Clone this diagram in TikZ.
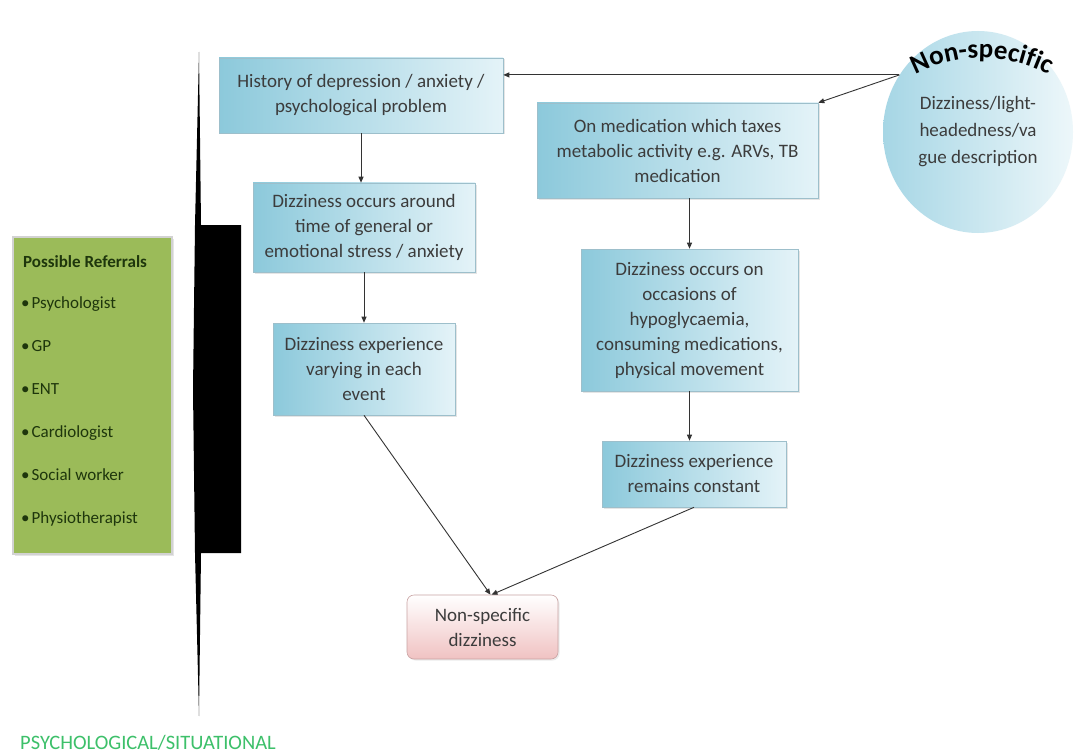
\documentclass[tikz,border=0pt]{standalone}
\usepackage{fontspec}
\setmainfont{Carlito}
\usetikzlibrary{arrows.meta,decorations.text,shapes.geometric,shadows}
\definecolor{boxdark}{HTML}{8CC9DB}
\definecolor{boxlight}{HTML}{E4F3F8}
\definecolor{boxedge}{HTML}{9DBFCB}
\definecolor{txtcol}{HTML}{3C3C3C}
\definecolor{ellA}{HTML}{A6D6E5}
\definecolor{ellB}{HTML}{EDF7FA}
\definecolor{pinkB}{HTML}{F0C2C2}
\definecolor{pinkedge}{HTML}{C9A3A3}
\definecolor{refgreen}{HTML}{9BBB59}
\definecolor{refedge}{HTML}{D2D2D2}
\definecolor{reftext}{HTML}{1E360C}
\definecolor{titlegreen}{HTML}{3DC06A}
\definecolor{arrowcol}{HTML}{333333}
\begin{document}
\begin{tikzpicture}[x=1pt,y=1pt,
  bluebox/.style={draw=boxedge, line width=0.6pt, left color=boxdark, right color=boxlight,
    drop shadow={opacity=0.2, shadow xshift=1.5pt, shadow yshift=-1.5pt},
    inner sep=2pt, align=center, text=txtcol, font=\fontsize{19}{25}\selectfont},
  pinkbox/.style={draw=pinkedge, line width=0.6pt, rounded corners=7pt, top color=white, bottom color=pinkB,
    drop shadow={opacity=0.15, shadow xshift=1.5pt, shadow yshift=-1.5pt},
    inner sep=2pt, align=center, text=txtcol, font=\fontsize{19}{25}\selectfont},
  reftxt/.style={anchor=base west, text=reftext, inner sep=0pt, font=\fontsize{17}{20}\selectfont},
  conn/.style={draw=arrowcol, line width=0.9pt, -{Triangle[length=6pt,width=5pt]}},
]
\useasboundingbox (0,0) rectangle (1075,-754);
\fill[white] (0,0) rectangle (1075,-754);

% black bracket shape
\fill[black] (199,-52) -- (201,-225) -- (241,-225) -- (241,-553) -- (201,-553) -- (199,-716)
  -- (195,-553) -- (193,-390) -- (195,-225) -- cycle;

% referrals box
\node[draw=refedge, line width=1.5pt, fill=refgreen, minimum width=159, minimum height=317,
  drop shadow={opacity=0.2, shadow xshift=1.5pt, shadow yshift=-1.5pt}] (refs) at (92.5,-395.5) {};
\node[reftxt, font=\fontsize{17}{20}\selectfont\bfseries] (r0) at (23,-267) {Possible Referrals};
\node[reftxt] (r1) at (21,-308) {•\kern2pt Psychologist};
\node[reftxt] (r2) at (21,-351) {•\kern2pt GP};
\node[reftxt] (r3) at (21,-394) {•\kern2pt ENT};
\node[reftxt] (r4) at (21,-437) {•\kern2pt Cardiologist};
\node[reftxt] (r5) at (21,-480) {•\kern2pt Social worker};
\node[reftxt] (r6) at (21,-523) {•\kern2pt Physiotherapist};

% flow boxes
\node[bluebox, minimum width=284, minimum height=75] (b1) at (361,-95.5)
  {History of depression / anxiety /\\ psychological problem};
\node[bluebox, minimum width=222, minimum height=89] (b2) at (364,-227.5)
  {Dizziness occurs around\\ time of general or\\ emotional stress / anxiety};
\node[bluebox, minimum width=182, minimum height=92] (b3) at (364,-369)
  {Dizziness experience\\ varying in each\\ event};
\node[bluebox, minimum width=281, minimum height=95] (b4) at (677.5,-150.5)
  {On medication which taxes\\ metabolic activity e.g. ARVs, TB\\ medication};
\node[bluebox, minimum width=217, minimum height=142] (b5) at (689.5,-320)
  {Dizziness occurs on\\ occasions of\\ hypoglycaemia,\\ consuming medications,\\ physical movement};
\node[bluebox, minimum width=184, minimum height=66] (b6) at (694,-474)
  {Dizziness experience\\ remains constant};
\node[pinkbox, minimum width=151, minimum height=64] (b7) at (482.5,-627)
  {Non-specific\\ dizziness};

% ellipse
\node[ellipse, minimum width=190, minimum height=202, inner sep=0pt,
  left color=ellA, right color=ellB, align=center, text=txtcol,
  font=\fontsize{19}{27}\selectfont] (ell) at (978,-132)
  {Dizziness/light-\\ headedness/va\\ gue description};
\path[decorate, decoration={text along path, text align=center,
  text={|\fontsize{27}{27}\selectfont\bfseries|Non-specific}}]
  (982,-200) ++(130:142) arc[start angle=130, end angle=50, radius=142];

% connectors
\draw[conn] (ell.144) -- (ell.144 -| b1.east);
\draw[conn] (ell.144) -- (b4.north east);
\draw[conn] (b1.south) -- (b1.south |- b2.north);
\draw[conn] (b2.south) -- (b3.north);
\draw[conn] (b5.north |- b4.south) -- (b5.north);
\draw[conn] (b5.south) -- (b5.south |- b6.north);
\draw[conn] (b3.south) -- ([xshift=8pt]b7.north);
\draw[conn] (b6.south) -- ([xshift=9pt]b7.north);

% bottom label
\node[anchor=base west, inner sep=0pt, text=titlegreen, font=\fontsize{20.5}{24}\selectfont] (lbl) at (20,-749)
  {PSYCHOLOGICAL/SITUATIONAL};
\end{tikzpicture}
\end{document}
